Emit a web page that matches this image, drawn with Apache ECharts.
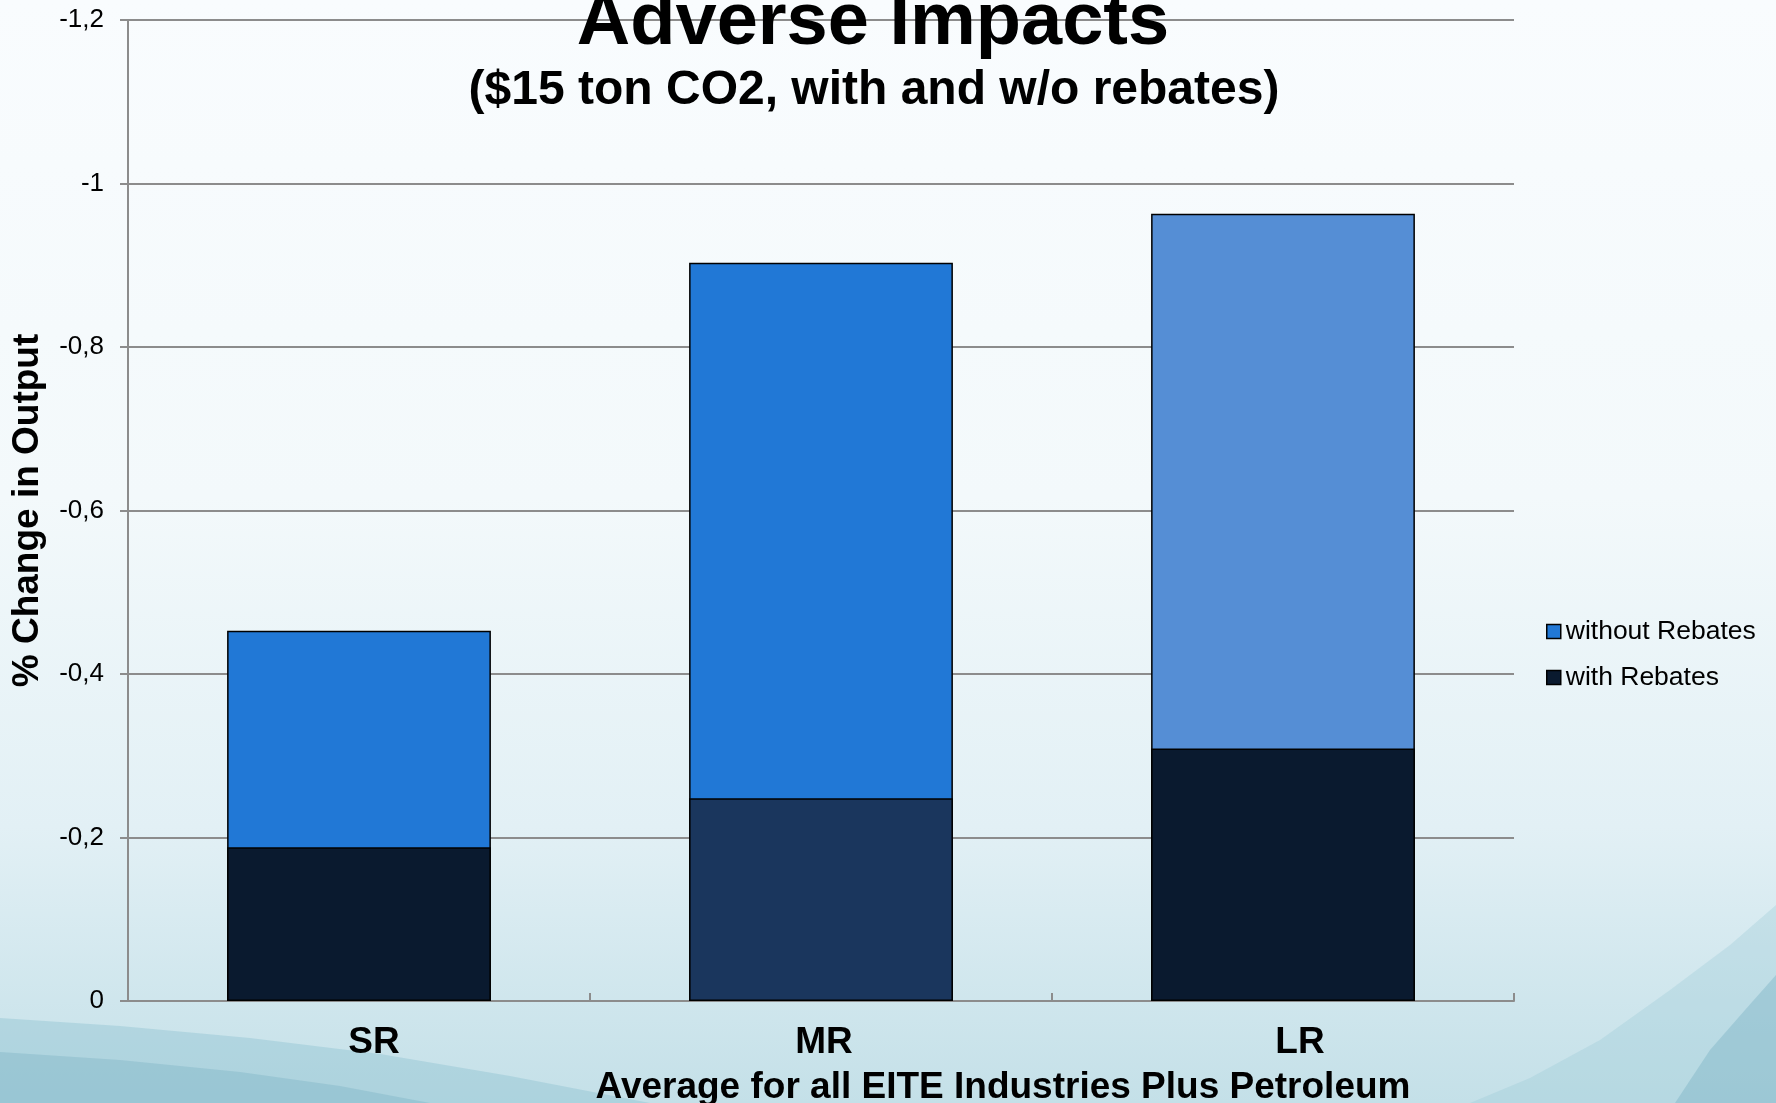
<!DOCTYPE html>
<html>
<head>
<meta charset="utf-8">
<title>Adverse Impacts</title>
<script src="https://cdn.jsdelivr.net/npm/echarts@6/dist/echarts.min.js"></script>
<style>
  html, body { margin: 0; padding: 0; }
  #chart { width: 1776px; height: 1103px; }
</style>
</head>
<body>
<div id="chart"></div>
<script>
// Horizons of the estimate
const categories = ['SR', 'MR', 'LR'];

// % change in output, average for EITE industries plus petroleum
const withoutRebates = [-0.453, -0.903, -0.963];
const withRebates = [-0.188, -0.248, -0.309];

// Per-bar fills
const withoutColors = ['#2178d6', '#2178d6', '#558ed5'];
const withColors = ['#0a1a2f', '#1a365d', '#0a1a2f'];

// Value axis ticks
const yMin = -1.2, yMax = 0, yStep = 0.2;

const FONT = '"Liberation Sans", Arial, sans-serif';

// Category labels sit slightly right of the bar centres
const labelNudge = { SR: 30, MR: 6, LR: 34 };

function fmtTick(v) {
  const r = Math.round(v * 10) / 10;
  return r === 0 ? '0' : String(r).replace('.', ',');
}

// Decorative swoosh shapes in the page background
function swoosh(points, fill) {
  return {
    type: 'polygon', silent: true, z: -10,
    shape: { points: points, smooth: 0 },
    style: { fill: fill }
  };
}

const catRich = {};
categories.forEach(c => {
  catRich[c] = {
    fontFamily: FONT, fontWeight: 'bold', fontSize: 37, color: '#000',
    padding: [0, 0, 0, labelNudge[c]]
  };
});

const chart = echarts.init(document.getElementById('chart'), null, { renderer: 'canvas' });

chart.setOption({
  animation: false,
  backgroundColor: {
    type: 'linear', x: 0, y: 0, x2: 0, y2: 1,
    colorStops: [
      { offset: 0, color: '#f9fcfe' },
      { offset: 0.45, color: '#f3f9fb' },
      { offset: 0.75, color: '#e2f0f5' },
      { offset: 1, color: '#c4e0e8' }
    ]
  },
  graphic: [
    swoosh([[0, 1018], [120, 1026], [250, 1038], [380, 1054], [510, 1076], [650, 1103], [0, 1103]], 'rgba(130,186,202,0.35)'),
    swoosh([[0, 1052], [120, 1060], [240, 1072], [340, 1086], [430, 1103], [0, 1103]], 'rgba(110,170,190,0.3)'),
    swoosh([[1776, 905], [1730, 945], [1670, 990], [1600, 1040], [1530, 1078], [1470, 1103], [1776, 1103]], 'rgba(150,198,212,0.3)'),
    swoosh([[1776, 975], [1745, 1010], [1710, 1050], [1675, 1103], [1776, 1103]], 'rgba(110,170,190,0.35)')
  ],
  title: [
    {
      text: 'Adverse Impacts',
      left: 868, top: -18, textAlign: 'center',
      textStyle: { fontFamily: FONT, fontWeight: 'bold', fontSize: 74, color: '#000' }
    },
    {
      text: '($15 ton CO2, with and w/o rebates)',
      left: 869, top: 62, textAlign: 'center',
      textStyle: { fontFamily: FONT, fontWeight: 'bold', fontSize: 48, color: '#000' }
    },
    {
      text: 'Average for all EITE Industries Plus Petroleum',
      left: 998, top: 1064, textAlign: 'center',
      textStyle: { fontFamily: FONT, fontWeight: 'bold', fontSize: 37, color: '#000' }
    }
  ],
  legend: {
    orient: 'vertical',
    left: 1541, top: 613,
    itemWidth: 14, itemHeight: 14, itemGap: 19,
    icon: 'rect',
    data: ['without Rebates', 'with Rebates'],
    textStyle: { fontFamily: FONT, fontSize: 26.5, color: '#000' },
    itemStyle: { borderColor: '#000', borderWidth: 1.5 }
  },
  grid: { left: 128, right: 262, top: 20, bottom: 102, containLabel: false },
  xAxis: {
    type: 'category',
    data: categories,
    axisLine: { lineStyle: { color: '#8c8c8c', width: 2 } },
    axisTick: { show: true, inside: true, length: 8, alignWithLabel: false, lineStyle: { color: '#8c8c8c', width: 2 } },
    axisLabel: {
      margin: 23,
      formatter: v => '{' + v + '|' + v + '}',
      rich: catRich
    }
  },
  yAxis: {
    type: 'value',
    inverse: true,
    min: yMin, max: yMax, interval: yStep,
    name: '% Change in Output',
    nameLocation: 'middle',
    nameRotate: 90,
    nameGap: 82,
    nameTextStyle: { fontFamily: FONT, fontWeight: 'bold', fontSize: 37, color: '#000' },
    axisLine: { show: true, lineStyle: { color: '#8c8c8c', width: 2 } },
    axisTick: { show: true, inside: false, length: 8, lineStyle: { color: '#8c8c8c', width: 2 } },
    axisLabel: { margin: 24, fontFamily: FONT, fontSize: 26, color: '#000', formatter: fmtTick },
    splitLine: { show: true, lineStyle: { color: '#8c8c8c', width: 2 } }
  },
  series: [
    {
      name: 'without Rebates',
      type: 'bar',
      barCategoryGap: '42.9%',
      data: withoutRebates.map((v, i) => ({ value: v, itemStyle: { color: withoutColors[i] } })),
      itemStyle: { color: withoutColors[0], borderColor: '#000', borderWidth: 1.5 },
      z: 2
    },
    {
      name: 'with Rebates',
      type: 'bar',
      barGap: '-100%',
      barCategoryGap: '42.9%',
      data: withRebates.map((v, i) => ({ value: v, itemStyle: { color: withColors[i] } })),
      itemStyle: { color: withColors[0], borderColor: '#000', borderWidth: 1.5 },
      z: 3
    }
  ]
});
</script>
</body>
</html>
